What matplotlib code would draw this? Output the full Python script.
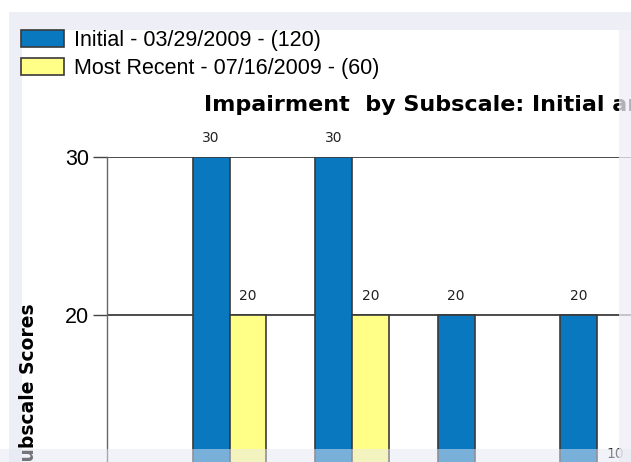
import matplotlib.pyplot as plt
from matplotlib.patches import Rectangle

# data (only four groups are visible in the crop)
categories = ["Subscale 1", "Subscale 2", "Subscale 3", "Subscale 4"]
initial_scores = [30, 30, 20, 20]
recent_scores = [20, 20, 0, 10]
series_labels = ["Initial - 03/29/2009 - (120)", "Most Recent - 07/16/2009 - (60)"]
y_ticks = [0, 10, 20, 30]

W, H = 631, 462
fig = plt.figure(figsize=(W / 100, H / 100), dpi=100)
fig.patch.set_facecolor("white")


def px(x, y):
    # pixel (from top-left) -> figure fraction
    return x / W, 1 - y / H


lav = "#EEEEF6"
# frame around the screenshot (left / top behind, right / bottom fade on top)
fig.add_artist(Rectangle(px(9, H), 13 / W, (H - 12) / H, transform=fig.transFigure,
                         facecolor=lav, edgecolor="none", zorder=-5))
fig.add_artist(Rectangle(px(9, 30), (W - 9) / W, 18 / H, transform=fig.transFigure,
                         facecolor=lav, edgecolor="none", zorder=-5))

# axes: x from 0 to 5 (categories at 1..4), y from 0 to 30, cropped by the figure
unit = 122.5
ax_left, ax_top = 107, 157
ax_w = 5 * unit
ax_h = 30 * 15.8
l, t = px(ax_left, ax_top)
ax = fig.add_axes([l, t - ax_h / H, ax_w / W, ax_h / H])

x = range(1, len(categories) + 1)
bw = 0.3
blue = "#0A78BE"
yellow = "#FFFF88"
b1 = ax.bar([i - bw / 2 for i in x], initial_scores, width=bw, color=blue,
            edgecolor="#3A3A3A", linewidth=1.2, label=series_labels[0], zorder=3)
b2 = ax.bar([i + bw / 2 for i in x], recent_scores, width=bw, color=yellow,
            edgecolor="#3A3A3A", linewidth=1.2, label=series_labels[1], zorder=3)
for bars, vals in ((b1, initial_scores), (b2, recent_scores)):
    labs = [str(v) if v > 0 else "" for v in vals]
    ax.bar_label(bars, labels=labs, padding=9, fontsize=10, color="#222222",
                 family="DejaVu Sans")

ax.set_xlim(0, 5)
ax.set_ylim(0, 30)
ax.set_yticks(y_ticks)
ax.set_yticklabels([str(v) for v in y_ticks], fontsize=15.5, family="Liberation Sans")
ax.set_xticks(list(x))
ax.tick_params(axis="x", bottom=False, labelbottom=False)
ax.tick_params(axis="y", length=10, width=1, color="#444444", pad=3)
ax.yaxis.grid(True, color="#1A1A1A", linewidth=1.1, zorder=1)
ax.set_axisbelow(True)
for s in ("top", "right", "bottom"):
    ax.spines[s].set_visible(False)
ax.spines["left"].set_color("#666666")
ax.spines["left"].set_linewidth(1)

fig.text(*px(204, 111), "Impairment  by Subscale: Initial and Most Recent",
         fontsize=16, fontweight="bold", family="DejaVu Sans", va="baseline", ha="left")
fig.text(*px(29, 303), "Subscale Scores", rotation=90, fontsize=13.5,
         fontweight="bold", family="DejaVu Sans", ha="center", va="top")

leg = fig.legend(handles=[b1, b2], loc="upper left", bbox_to_anchor=px(21, 30),
                 frameon=False, prop={"family": "Liberation Sans", "size": 15.5},
                 handlelength=2.0, handleheight=0.84, handletextpad=0.47,
                 labelspacing=0.34, borderpad=0, borderaxespad=0)
for p in leg.get_patches():
    p.set_linewidth(1.2)

# soft edges of the screenshot on top
fig.add_artist(Rectangle(px(619, H), 12 / W, (H - 12) / H, transform=fig.transFigure,
                         facecolor=lav, edgecolor="none", alpha=0.75, zorder=20))
fig.add_artist(Rectangle(px(0, H), 1, 13 / H, transform=fig.transFigure,
                         facecolor="#E6E9F4", edgecolor="none", alpha=0.5, zorder=20))

fig.savefig("out.png", dpi=100)
